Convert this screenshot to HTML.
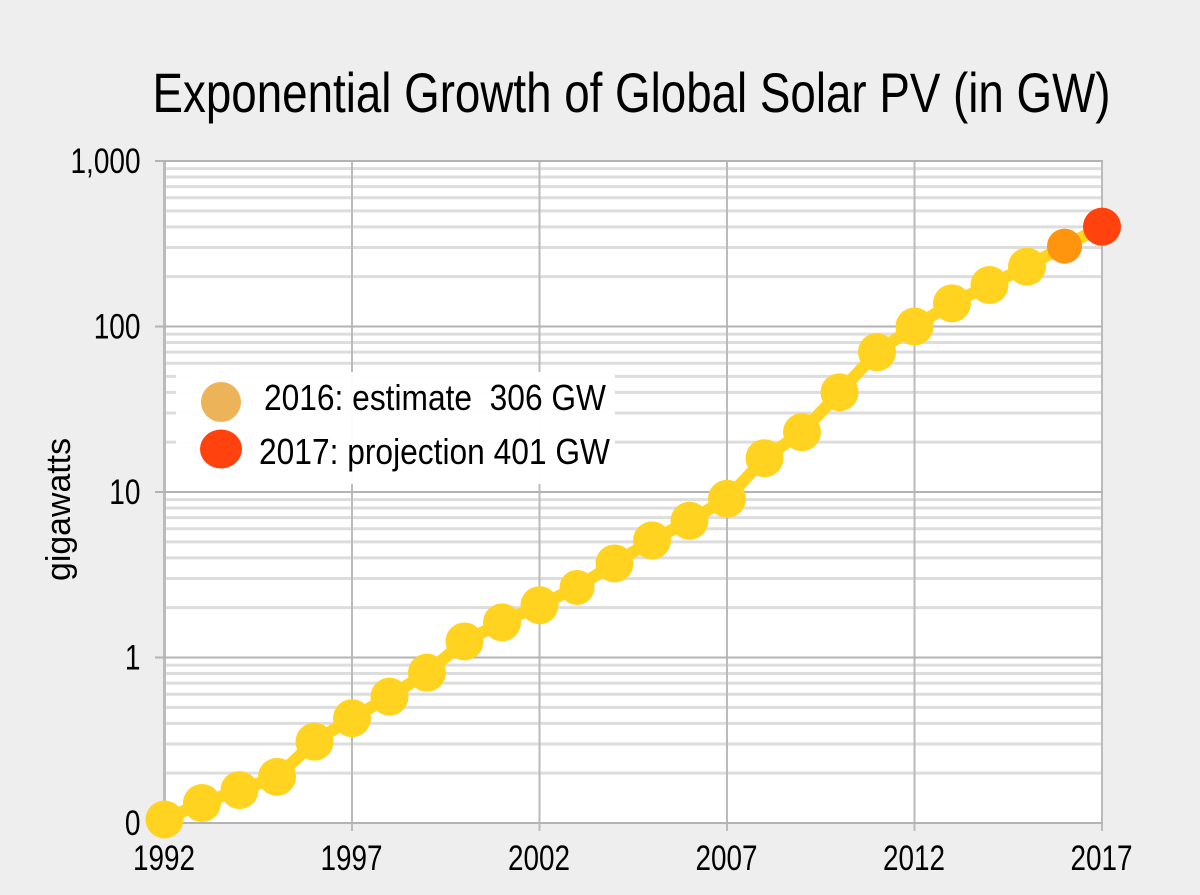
<!DOCTYPE html>
<html lang="en">
<head>
<meta charset="utf-8">
<title>Exponential Growth of Global Solar PV</title>
<style>
html,body{margin:0;padding:0;background:#eeeeee;}
svg{display:block;font-family:"Liberation Sans",sans-serif;}
</style>
</head>
<body>
<svg id="chart" width="1200" height="895" viewBox="0 0 1200 895" xmlns="http://www.w3.org/2000/svg">
  <rect x="0" y="0" width="1200" height="895" fill="#eeeeee"/>
  <rect x="164.5" y="161.5" width="937.5" height="661.5" fill="#ffffff"/>
  <g id="minor-grid"></g>
  <g id="major-grid"></g>
  <g id="x-ticks"></g>
  <g id="y-ticks"></g>
  <text x="152.5" y="112" font-size="56" textLength="958" lengthAdjust="spacingAndGlyphs" fill="#000">Exponential Growth of Global Solar PV (in GW)</text>
  <text transform="translate(70,581) rotate(-90)" font-size="34" textLength="143" lengthAdjust="spacingAndGlyphs" fill="#000">gigawatts</text>
  <g>
    <rect x="176" y="372" width="439" height="112" fill="#ffffff" fill-opacity="0.97"/>
    <circle cx="221" cy="402" r="20" fill="#edb359"/>
    <text x="264" y="410" font-size="36" textLength="342" lengthAdjust="spacingAndGlyphs" xml:space="preserve" fill="#000">2016: estimate  306 GW</text>
    <ellipse cx="221" cy="449" rx="21" ry="19.5" fill="#ff420e"/>
    <text x="259" y="464" font-size="36" textLength="351" lengthAdjust="spacingAndGlyphs" fill="#000">2017: projection 401 GW</text>
  </g>
  <g id="series"></g>
</svg>
<script>
const years = [1992,1993,1994,1995,1996,1997,1998,1999,2000,2001,2002,2003,2004,2005,2006,2007,2008,2009,2010,2011,2012,2013,2014,2015,2016,2017];
const gigawatts = [0.105,0.132,0.158,0.19,0.31,0.43,0.58,0.81,1.25,1.63,2.07,2.65,3.7,5.1,6.7,9.1,16,23,40,70,100,138,178,230,306,401];
const xTickYears = [1992,1997,2002,2007,2012,2017];
const yTickValues = [0.1,1,10,100,1000];
const yTickLabels = ['0','1','10','100','1,000'];
const minorMultipliers = [2,3,4,5,6,7,8,9];

const NS = 'http://www.w3.org/2000/svg';
const xScale = function (year) { return 164.5 + (year - 1992) * 37.5; };
const yScale = function (v) { return 823 - (Math.log10(v) + 1) * 165.5; };

function mk(parent, tag, attrs, text) {
  const el = document.createElementNS(NS, tag);
  for (const k in attrs) el.setAttribute(k, attrs[k]);
  if (text !== undefined) el.textContent = text;
  parent.appendChild(el);
  return el;
}

const minorG = document.getElementById('minor-grid');
const majorG = document.getElementById('major-grid');
const xG = document.getElementById('x-ticks');
const yG = document.getElementById('y-ticks');
const seriesG = document.getElementById('series');

yTickValues.slice(0, -1).forEach(function (base) {
  minorMultipliers.forEach(function (m) {
    const y = yScale(base * m);
    const line = mk(minorG, 'line', {x1: 164.5, x2: 1102, y1: y, y2: y, stroke: '#dddddd', 'stroke-width': 3});
    
    
  });
});

xTickYears.forEach(function (yr) {
  const x = xScale(yr);
  const line = mk(majorG, 'line', {x1: x, x2: x, y1: 161, y2: 831, stroke: '#bbbbbb', 'stroke-width': yr === 1992 ? 3 : 2});
  
  
  const label = mk(xG, 'text', {x: x - 0.5, y: 870, 'font-size': 35, 'text-anchor': 'middle', fill: '#000', textLength: 62, lengthAdjust: 'spacingAndGlyphs'}, String(yr));
  
  
});

yTickValues.forEach(function (v, i) {
  const y = yScale(v);
  const line = mk(majorG, 'line', {x1: 155, x2: 1103, y1: y, y2: y, stroke: '#b3b3b3', 'stroke-width': 2});
  
  
  const label = mk(yG, 'text', {x: 140.5, y: y + 12, 'font-size': 35, 'text-anchor': 'end', fill: '#000', textLength: yTickLabels[i].length * 15.6 - (i === 4 ? 8 : 0), lengthAdjust: 'spacingAndGlyphs'}, yTickLabels[i]);
  
  
});

const path = mk(seriesG, 'polyline', {
  points: years.map(function (yr, i) { return xScale(yr) + ',' + yScale(gigawatts[i]); }).join(' '),
  fill: 'none', stroke: '#ffd320', 'stroke-width': 12, 'stroke-linejoin': 'round'
});



years.forEach(function (yr, i) {
  const r = (yr === 2016 || yr === 2003) ? 17.5 : 19;
  const fill = yr === 2016 ? '#ff950e' : (yr === 2017 ? '#ff420e' : '#ffd320');
  const c = mk(seriesG, 'circle', {cx: xScale(yr), cy: yScale(gigawatts[i]), r: r, fill: fill});
  
  
});
</script>
</body>
</html>
